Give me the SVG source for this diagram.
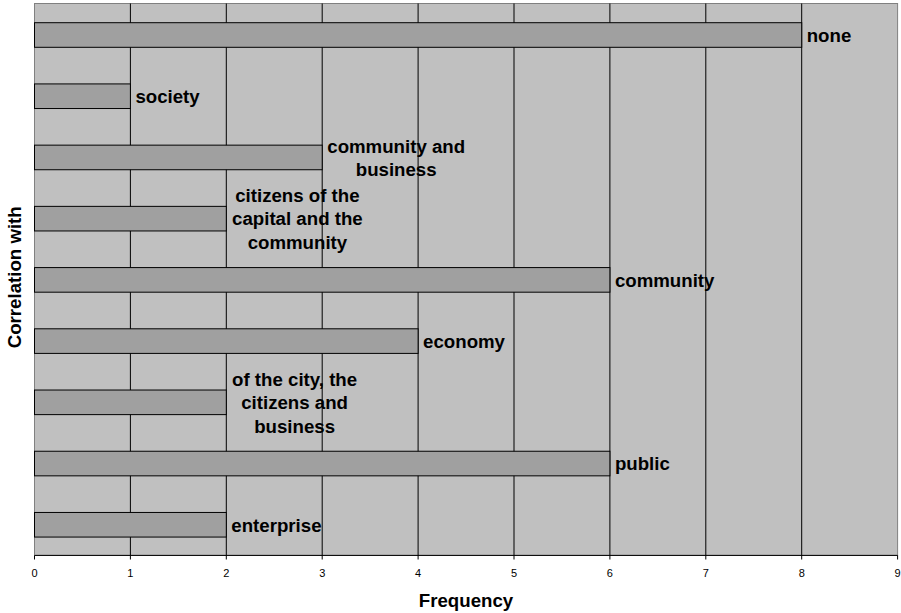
<svg xmlns="http://www.w3.org/2000/svg" width="901" height="613" viewBox="0 0 901 613">
<style>
text{font-family:"Liberation Sans",Arial,sans-serif;fill:#000}
.lbl{font-size:18.67px;font-weight:bold}
.mid{text-anchor:middle}
.tick{font-size:11px;text-anchor:middle}
.grid{stroke:#000;stroke-width:1}
.bar{fill:#A0A0A0;stroke:#000;stroke-width:1}
</style>
<rect x="0" y="0" width="901" height="613" fill="#fff"/>
<g id="plot">
<rect x="34.5" y="3.5" width="863.1" height="551.9" fill="#C0C0C0" stroke="#808080" stroke-width="1"/>
<g class="grid">
<line x1="130.4" y1="3.5" x2="130.4" y2="555.4"/>
<line x1="226.3" y1="3.5" x2="226.3" y2="555.4"/>
<line x1="322.2" y1="3.5" x2="322.2" y2="555.4"/>
<line x1="418.1" y1="3.5" x2="418.1" y2="555.4"/>
<line x1="514" y1="3.5" x2="514" y2="555.4"/>
<line x1="609.9" y1="3.5" x2="609.9" y2="555.4"/>
<line x1="705.8" y1="3.5" x2="705.8" y2="555.4"/>
<line x1="801.7" y1="3.5" x2="801.7" y2="555.4"/>
</g>
</g>
<g id="axes">
<line x1="34.5" y1="555.4" x2="897.6" y2="555.4" stroke="#000"/>
<line x1="34.5" y1="3.5" x2="34.5" y2="555.4" stroke="#808080"/>
<g stroke="#000">
<line x1="34.5" y1="555.4" x2="34.5" y2="559.5"/>
<line x1="130.4" y1="555.4" x2="130.4" y2="559.5"/>
<line x1="226.3" y1="555.4" x2="226.3" y2="559.5"/>
<line x1="322.2" y1="555.4" x2="322.2" y2="559.5"/>
<line x1="418.1" y1="555.4" x2="418.1" y2="559.5"/>
<line x1="514" y1="555.4" x2="514" y2="559.5"/>
<line x1="609.9" y1="555.4" x2="609.9" y2="559.5"/>
<line x1="705.8" y1="555.4" x2="705.8" y2="559.5"/>
<line x1="801.7" y1="555.4" x2="801.7" y2="559.5"/>
<line x1="897.6" y1="555.4" x2="897.6" y2="559.5"/>
</g>
<text class="tick" x="34.5" y="576.7">0</text>
<text class="tick" x="130.4" y="576.7">1</text>
<text class="tick" x="226.3" y="576.7">2</text>
<text class="tick" x="322.2" y="576.7">3</text>
<text class="tick" x="418.1" y="576.7">4</text>
<text class="tick" x="514" y="576.7">5</text>
<text class="tick" x="609.9" y="576.7">6</text>
<text class="tick" x="705.8" y="576.7">7</text>
<text class="tick" x="801.7" y="576.7">8</text>
<text class="tick" x="897.6" y="576.7">9</text>
<text class="lbl mid" x="466" y="606.7">Frequency</text>
<text class="lbl mid" transform="translate(20.5,277.3) rotate(-90)">Correlation with</text>
</g>
<g id="bar-none">
<rect class="bar" x="34.5" y="22.7" width="767.2" height="24.6"/>
<text class="lbl" x="806.7" y="41.7">none</text>
</g>
<g id="bar-society">
<rect class="bar" x="34.5" y="83.92" width="95.9" height="24.6"/>
<text class="lbl" x="135.4" y="102.9">society</text>
</g>
<g id="bar-community-business">
<rect class="bar" x="34.5" y="145.14" width="287.7" height="24.6"/>
<text class="lbl mid" x="396.2" y="152.6">community and</text>
<text class="lbl mid" x="396.2" y="176.3">business</text>
</g>
<g id="bar-citizens-capital">
<rect class="bar" x="34.5" y="206.36" width="191.8" height="24.6"/>
<text class="lbl mid" x="297.4" y="201.8">citizens of the</text>
<text class="lbl mid" x="297.4" y="225.3">capital and the</text>
<text class="lbl mid" x="297.4" y="248.8">community</text>
</g>
<g id="bar-community">
<rect class="bar" x="34.5" y="267.58" width="575.4" height="24.6"/>
<text class="lbl" x="614.9" y="286.6">community</text>
</g>
<g id="bar-economy">
<rect class="bar" x="34.5" y="328.8" width="383.6" height="24.6"/>
<text class="lbl" x="423.1" y="347.8">economy</text>
</g>
<g id="bar-city-citizens">
<rect class="bar" x="34.5" y="390.02" width="191.8" height="24.6"/>
<text class="lbl mid" x="294.6" y="385.8">of the city, the</text>
<text class="lbl mid" x="294.6" y="409.3">citizens and</text>
<text class="lbl mid" x="294.6" y="432.8">business</text>
</g>
<g id="bar-public">
<rect class="bar" x="34.5" y="451.24" width="575.4" height="24.6"/>
<text class="lbl" x="614.9" y="470.2">public</text>
</g>
<g id="bar-enterprise">
<rect class="bar" x="34.5" y="512.46" width="191.8" height="24.6"/>
<text class="lbl" x="231.3" y="531.5">enterprise</text>
</g>
<g id="connectors"></g>
</svg>
